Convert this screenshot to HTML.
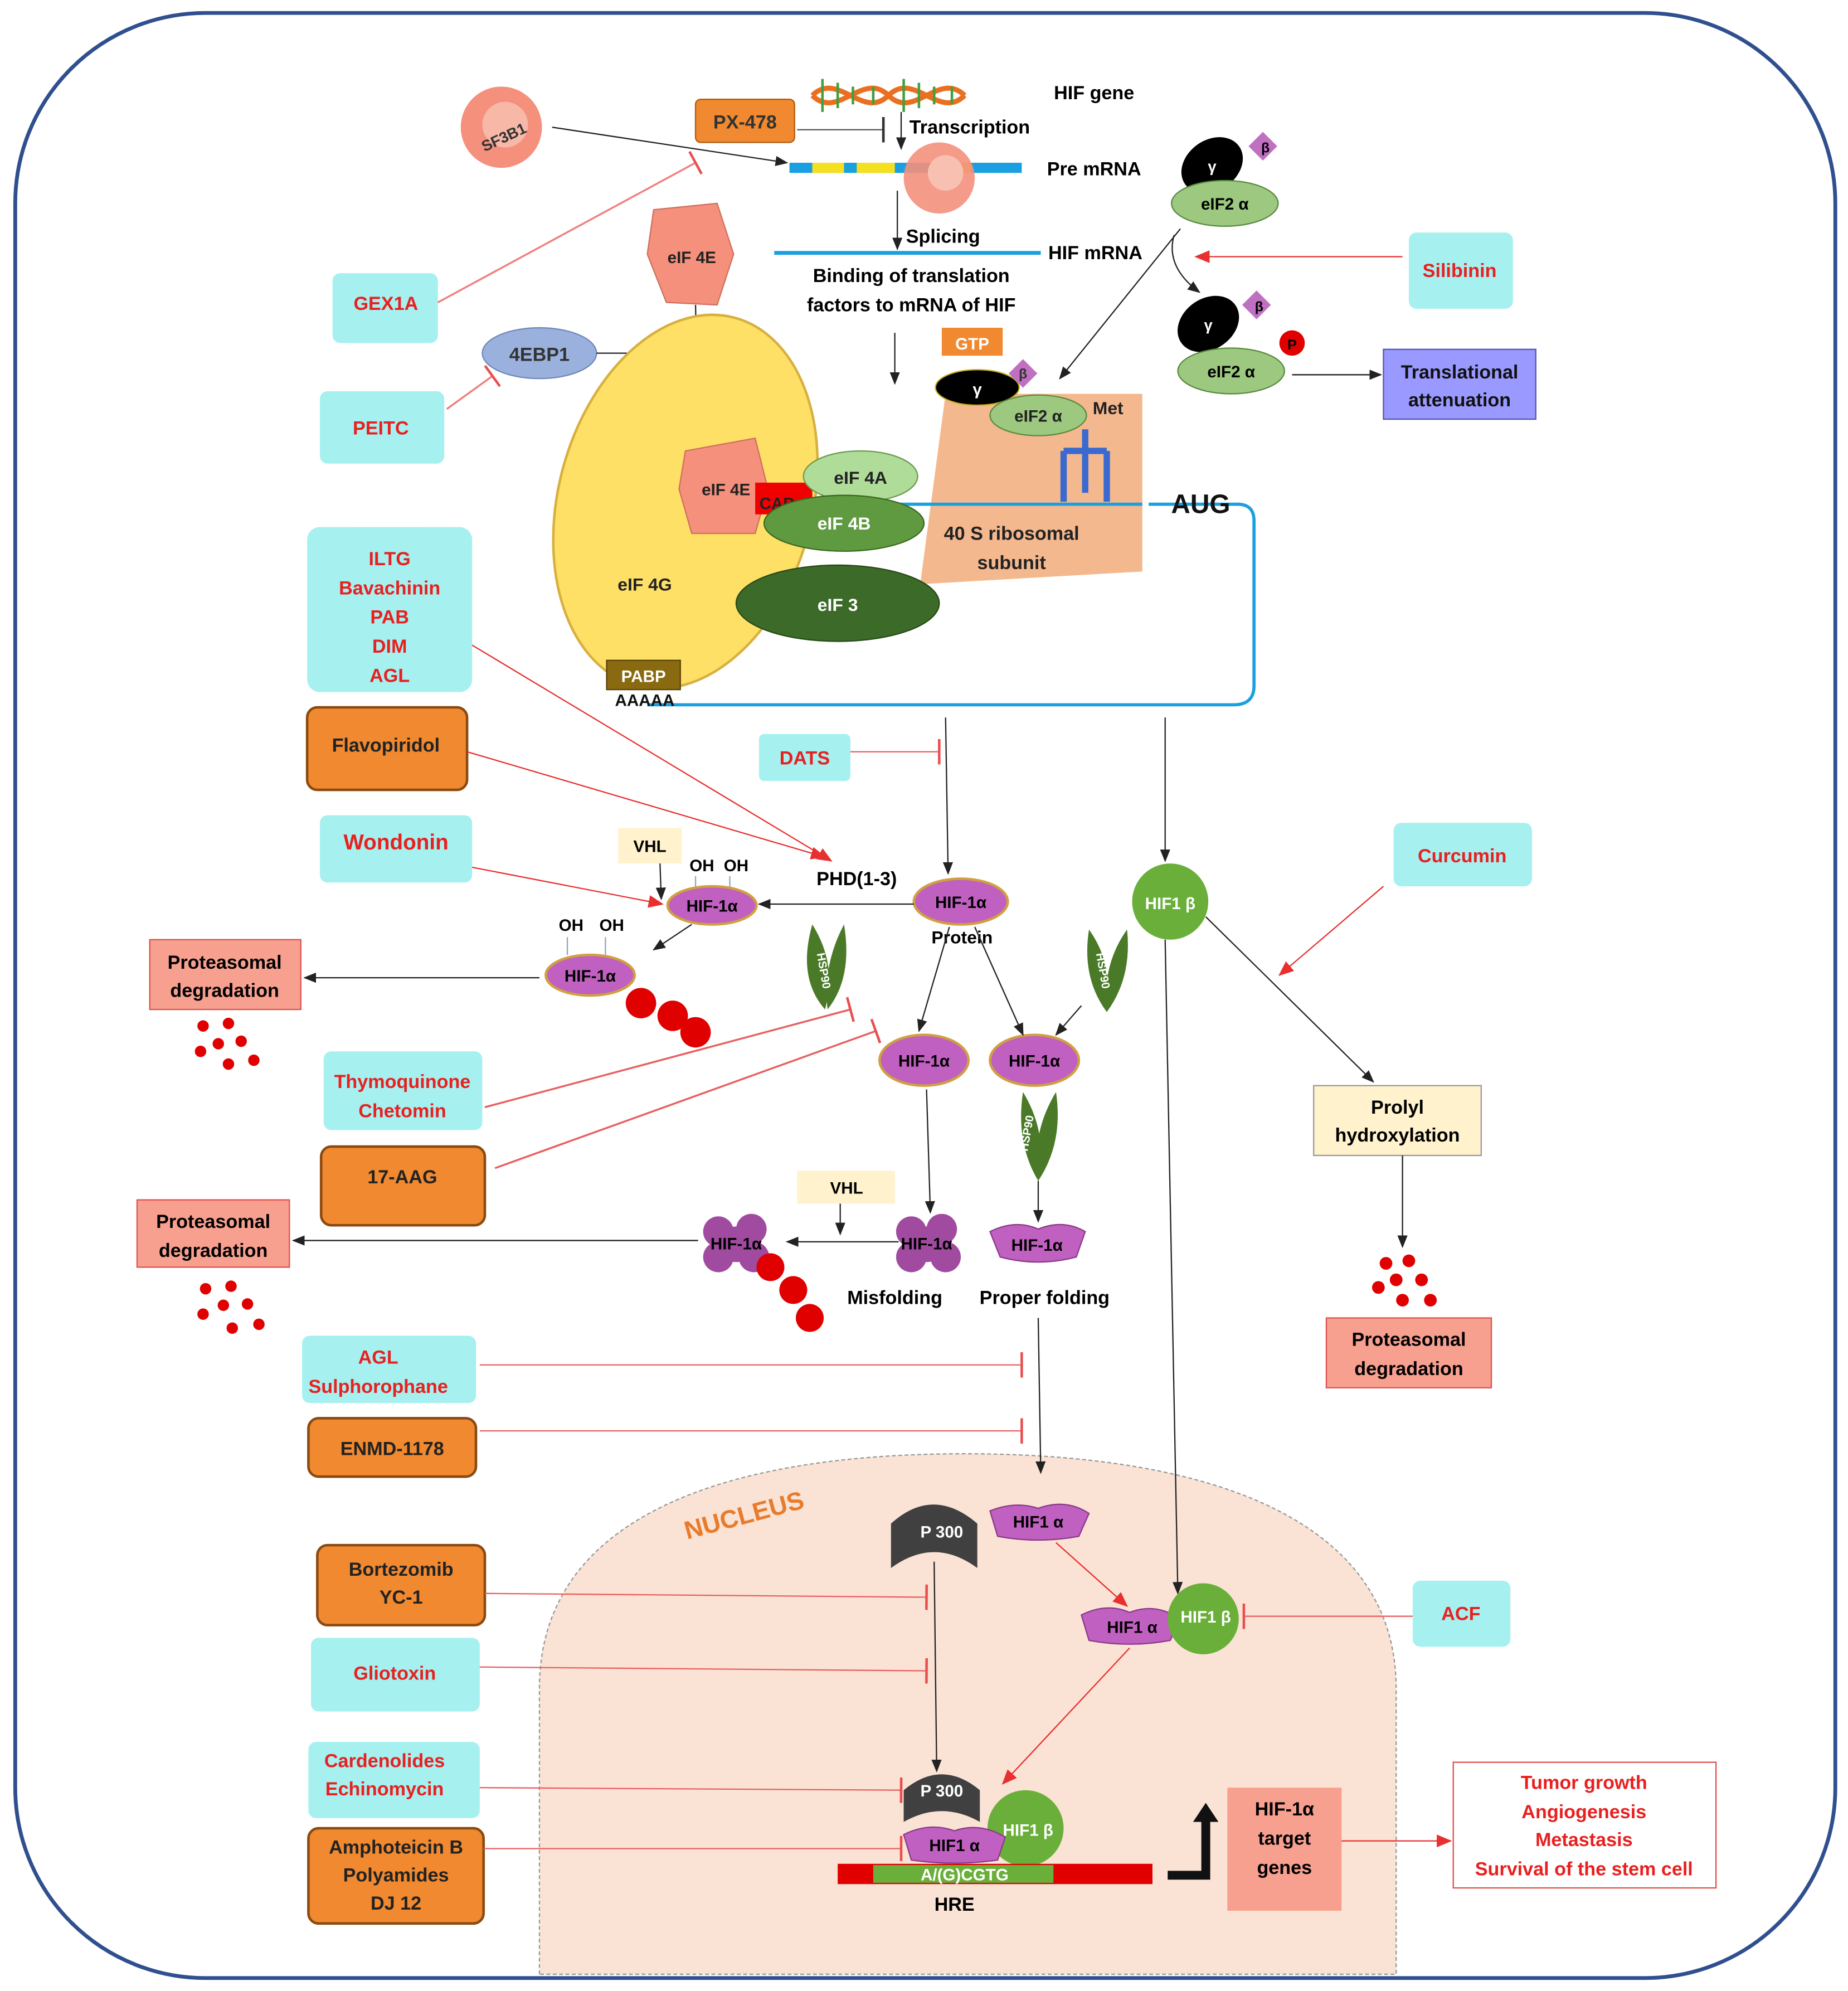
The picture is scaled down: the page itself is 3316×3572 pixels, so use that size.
<!DOCTYPE html>
<html><head><meta charset="utf-8"><style>html,body{margin:0;padding:0;background:#fff}svg{display:block}text{font-family:"Liberation Sans",sans-serif;font-weight:bold}</style></head><body>
<svg width="3316" height="3572" viewBox="0 0 1456 1568" xmlns="http://www.w3.org/2000/svg">
<defs>
<marker id="a" markerWidth="10" markerHeight="10" refX="9" refY="5" orient="auto" markerUnits="userSpaceOnUse"><path d="M0,1 L10,5 L0,9 z" fill="#222"/></marker>
<marker id="r" markerWidth="12" markerHeight="10" refX="11" refY="5" orient="auto" markerUnits="userSpaceOnUse"><path d="M0,0 L12,5 L0,10 z" fill="#e83030"/></marker>
<marker id="t" markerWidth="4" markerHeight="20" refX="2" refY="10" orient="auto" markerUnits="userSpaceOnUse"><rect x="1" y="0" width="2" height="20" fill="#e85050"/></marker>
<marker id="tk" markerWidth="4" markerHeight="20" refX="2" refY="10" orient="auto" markerUnits="userSpaceOnUse"><rect x="1" y="0" width="2" height="20" fill="#333"/></marker>
</defs>
<rect x="12" y="10" width="1434" height="1548" rx="150" fill="#fff" stroke="#2f4f8f" stroke-width="3"/>
<!-- nucleus -->
<path d="M425,1555 L425,1330 C425,1200 560,1145 760,1145 C960,1145 1100,1200 1100,1330 L1100,1555 Z" fill="#fae3d5" stroke="#999" stroke-dasharray="3,2"/>
<text x="588" y="1200" font-size="20" fill="#e87b2c" transform="rotate(-15 588 1200)" text-anchor="middle">NUCLEUS</text>

<g font-size="15" text-anchor="middle">
<!-- top -->
<circle cx="395" cy="100" r="32" fill="#f4907c"/><circle cx="398" cy="98" r="18" fill="#f8b8a8"/>
<text x="397" y="112" font-size="12" fill="#333" transform="rotate(-25 397 108)">SF3B1</text>
<rect x="548" y="78" width="78" height="34" rx="4" fill="#f0892f" stroke="#b05a10"/><text x="587" y="101" fill="#333">PX-478</text>
<path d="M640,75 C660,55 680,95 700,75 C720,55 740,95 760,75 M640,75 C660,95 680,55 700,75 C720,95 740,55 760,75" stroke="#e87020" stroke-width="4" fill="none"/>
<path d="M648,62 v26 M660,65 v20 M672,68 v14 M688,68 v14 M712,62 v26 M724,65 v20 M736,68 v14 M750,68 v14" stroke="#40a040" stroke-width="2"/>
<text x="862" y="78" text-anchor="middle">HIF gene</text>
<text x="764" y="105">Transcription</text>
<line x1="710" y1="88" x2="710" y2="117" stroke="#222" marker-end="url(#a)"/>
<line x1="628" y1="102" x2="696" y2="102" stroke="#555" marker-end="url(#tk)"/>
<rect x="622" y="128" width="183" height="8" fill="#1aa0e0"/><rect x="640" y="128" width="25" height="8" fill="#f5e020"/><rect x="675" y="128" width="30" height="8" fill="#f5e020"/><rect x="740" y="128" width="25" height="8" fill="#f5e020"/>
<text x="862" y="138">Pre mRNA</text>
<line x1="435" y1="100" x2="620" y2="128" stroke="#222" marker-end="url(#a)"/>
<circle cx="740" cy="140" r="28" fill="#f4907c" opacity="0.9"/><circle cx="745" cy="136" r="14" fill="#f8c0b0"/>
<line x1="707" y1="150" x2="707" y2="196" stroke="#222" marker-end="url(#a)"/>
<text x="743" y="191">Splicing</text>
<line x1="610" y1="199" x2="820" y2="199" stroke="#1aa0e0" stroke-width="3"/>
<text x="863" y="204">HIF mRNA</text>
<text x="718" y="222">Binding of translation</text><text x="718" y="245">factors to mRNA of HIF</text>
<line x1="705" y1="262" x2="705" y2="302" stroke="#222" marker-end="url(#a)"/>
<rect x="262" y="215" width="83" height="55" rx="6" fill="#a6f0f0"/><text x="304" y="244" fill="#e82020">GEX1A</text>
<line x1="345" y1="238" x2="548" y2="128" stroke="#f08080" stroke-width="1.5" marker-end="url(#t)"/>
<path d="M515,165 L565,160 L578,200 L565,240 L525,238 L510,200 Z" fill="#f4907c" stroke="#d07060"/><text x="545" y="207" font-size="13" fill="#222">eIF 4E</text>
<ellipse cx="425" cy="278" rx="45" ry="20" fill="#9ab0dd" stroke="#7088bb"/><text x="425" y="284" fill="#333">4EBP1</text>
<rect x="252" y="308" width="98" height="57" rx="6" fill="#a6f0f0"/><text x="300" y="342" fill="#e82020">PEITC</text>
<line x1="352" y1="322" x2="388" y2="296" stroke="#f08080" stroke-width="1.5" marker-end="url(#t)"/>
<line x1="470" y1="278" x2="540" y2="278" stroke="#222" marker-end="url(#a)"/>
<line x1="548" y1="240" x2="550" y2="345" stroke="#222" marker-end="url(#a)"/>
<!-- complex -->
<ellipse cx="540" cy="395" rx="100" ry="150" transform="rotate(15 540 395)" fill="#ffe066" stroke="#d8b040" stroke-width="2"/>
<path d="M540,355 L595,345 L605,385 L595,420 L545,420 L535,385 Z" fill="#f4907c" stroke="#d07060"/><text x="572" y="390" font-size="13" fill="#222">eIF 4E</text>
<rect x="595" y="380" width="45" height="25" fill="#f00000"/><text x="612" y="401" font-size="13" fill="#222">CAP</text>
<path d="M905,397 L975,397 Q988,397 988,410 L988,540 Q988,555 972,555 L510,555" stroke="#1aa0e0" stroke-width="2.5" fill="none"/>
<polygon points="745,310 900,310 900,450 725,460" fill="#f4b88e"/>
<line x1="640" y1="397" x2="900" y2="397" stroke="#1aa0e0" stroke-width="2.5"/>
<ellipse cx="678" cy="375" rx="45" ry="20" fill="#b0dc9a" stroke="#6a9a50"/><text x="678" y="381" font-size="14" fill="#222">eIF 4A</text>
<ellipse cx="665" cy="412" rx="63" ry="22" fill="#5f9a40" stroke="#3a6a20"/><text x="665" y="417" font-size="14" fill="#fff">eIF 4B</text>
<ellipse cx="660" cy="475" rx="80" ry="30" fill="#3c6a28" stroke="#284a18"/><text x="660" y="481" font-size="14" fill="#fff">eIF 3</text>
<text x="508" y="465" font-size="14" fill="#222">eIF 4G</text>
<rect x="478" y="520" width="58" height="23" fill="#8a6a10" stroke="#5a4008"/><text x="507" y="537" font-size="13" fill="#fff">PABP</text>
<text x="508" y="556" font-size="13" fill="#111">AAAAA</text>
<text x="797" y="425" font-size="15" fill="#222">40 S ribosomal</text><text x="797" y="448" font-size="15" fill="#222">subunit</text>
<path d="M855,338 v50 M838,355 h34 M838,355 v40 M872,355 v40" stroke="#3a6ad0" stroke-width="5" fill="none"/>
<text x="873" y="326" font-size="14" fill="#222">Met</text>
<rect x="742" y="258" width="48" height="22" fill="#f0892f"/><text x="766" y="275" font-size="13" fill="#fff">GTP</text>
<ellipse cx="770" cy="305" rx="33" ry="14" fill="#000" stroke="#c8b020"/><text x="770" y="311" font-size="13" fill="#fff">γ</text>
<rect x="798" y="286" width="16" height="16" transform="rotate(45 806 294)" fill="#c070c0"/><text x="806" y="298" font-size="11" fill="#333">β</text>
<ellipse cx="818" cy="327" rx="38" ry="16" fill="#9cc880" stroke="#5a8a40"/><text x="818" y="332" font-size="13" fill="#222">eIF2 α</text>
<text x="946" y="404" font-size="21" fill="#111">AUG</text>
<!-- top right -->
<ellipse cx="955" cy="130" rx="26" ry="20" transform="rotate(-35 955 130)" fill="#000"/><text x="955" y="135" font-size="12" fill="#fff">γ</text>
<rect x="987" y="107" width="16" height="16" transform="rotate(45 995 115)" fill="#c070c0"/><text x="997" y="120" font-size="11">β</text>
<ellipse cx="965" cy="160" rx="42" ry="18" fill="#9cc880" stroke="#5a8a40"/><text x="965" y="165" font-size="13">eIF2 α</text>
<line x1="930" y1="180" x2="835" y2="298" stroke="#222" marker-end="url(#a)"/>
<path d="M925,185 Q918,210 945,230" stroke="#222" fill="none" marker-end="url(#a)"/>
<rect x="1110" y="183" width="82" height="60" rx="6" fill="#a6f0f0"/><text x="1150" y="218" fill="#e82020">Silibinin</text>
<line x1="1105" y1="202" x2="942" y2="202" stroke="#e83030" marker-end="url(#r)"/>
<ellipse cx="952" cy="255" rx="26" ry="20" transform="rotate(-35 952 255)" fill="#000"/><text x="952" y="260" font-size="12" fill="#fff">γ</text>
<rect x="982" y="232" width="16" height="16" transform="rotate(45 990 240)" fill="#c070c0"/><text x="992" y="245" font-size="11">β</text>
<ellipse cx="970" cy="292" rx="42" ry="18" fill="#9cc880" stroke="#5a8a40"/><text x="970" y="297" font-size="13">eIF2 α</text>
<circle cx="1018" cy="270" r="10" fill="#e00000"/><text x="1018" y="275" font-size="11">P</text>
<line x1="1018" y1="295" x2="1088" y2="295" stroke="#222" marker-end="url(#a)"/>
<rect x="1090" y="275" width="120" height="55" fill="#9999ff" stroke="#5555aa"/><text x="1150" y="298" fill="#111">Translational</text><text x="1150" y="320" fill="#111">attenuation</text>
<!-- left column -->
<rect x="242" y="415" width="130" height="130" rx="10" fill="#a6f0f0"/>
<g fill="#e82020"><text x="307" y="445">ILTG</text><text x="307" y="468">Bavachinin</text><text x="307" y="491">PAB</text><text x="307" y="514">DIM</text><text x="307" y="537">AGL</text></g>
<rect x="242" y="557" width="126" height="65" rx="8" fill="#f0892f" stroke="#8a4a10" stroke-width="2"/><text x="304" y="592" fill="#222">Flavopiridol</text>
<line x1="372" y1="508" x2="655" y2="678" stroke="#e83030" marker-end="url(#r)"/>
<line x1="368" y1="592" x2="650" y2="675" stroke="#e83030" marker-end="url(#r)"/>
<rect x="598" y="578" width="72" height="37" rx="4" fill="#a6f0f0"/><text x="634" y="602" fill="#e82020">DATS</text>
<line x1="670" y1="592" x2="740" y2="592" stroke="#e86060" marker-end="url(#t)"/>
<line x1="745" y1="565" x2="747" y2="688" stroke="#222" marker-end="url(#a)"/>
<line x1="918" y1="565" x2="918" y2="678" stroke="#222" marker-end="url(#a)"/>
<rect x="252" y="642" width="120" height="53" rx="6" fill="#a6f0f0"/><text x="312" y="669" font-weight="normal" font-size="17" fill="#e82020">Wondonin</text>
<line x1="372" y1="683" x2="522" y2="712" stroke="#e83030" marker-end="url(#r)"/>
<rect x="487" y="652" width="50" height="28" fill="#fff2cc"/><text x="512" y="671" font-size="13">VHL</text>
<line x1="520" y1="680" x2="521" y2="708" stroke="#222" marker-end="url(#a)"/>
<text x="675" y="697">PHD(1-3)</text>
<text x="553" y="686" font-size="13" font-weight="normal">OH</text><text x="580" y="686" font-size="13" font-weight="normal">OH</text>
<line x1="548" y1="690" x2="548" y2="700" stroke="#8ab"/><line x1="575" y1="690" x2="575" y2="700" stroke="#8ab"/>
<ellipse cx="561" cy="713" rx="35" ry="15" fill="#c060c0" stroke="#d0a040" stroke-width="2"/><text x="561" y="718" font-size="13">HIF-1α</text>
<ellipse cx="757" cy="710" rx="37" ry="18" fill="#c060c0" stroke="#d0a040" stroke-width="2"/><text x="757" y="715" font-size="13">HIF-1α</text>
<text x="758" y="743" font-size="14">Protein</text>
<line x1="720" y1="712" x2="598" y2="712" stroke="#222" marker-end="url(#a)"/>
<line x1="545" y1="728" x2="515" y2="748" stroke="#222" marker-end="url(#a)"/>
<text x="450" y="733" font-size="13" font-weight="normal">OH</text><text x="482" y="733" font-size="13" font-weight="normal">OH</text>
<line x1="447" y1="738" x2="447" y2="752" stroke="#8ab"/><line x1="477" y1="738" x2="477" y2="752" stroke="#8ab"/>
<ellipse cx="465" cy="768" rx="35" ry="16" fill="#c060c0" stroke="#d0a040" stroke-width="2"/><text x="465" y="773" font-size="13">HIF-1α</text>
<g fill="#e00000"><circle cx="505" cy="790" r="12"/><circle cx="530" cy="800" r="12"/><circle cx="548" cy="813" r="12"/></g>
<rect x="118" y="740" width="119" height="55" fill="#f8a090" stroke="#e05050"/><text x="177" y="763">Proteasomal</text><text x="177" y="785">degradation</text>
<line x1="425" y1="770" x2="240" y2="770" stroke="#222" marker-end="url(#a)"/>
<g fill="#e00000"><circle cx="160" cy="808" r="4.5"/><circle cx="180" cy="806" r="4.5"/><circle cx="172" cy="822" r="4.5"/><circle cx="190" cy="820" r="4.5"/><circle cx="158" cy="828" r="4.5"/><circle cx="180" cy="838" r="4.5"/><circle cx="200" cy="835" r="4.5"/></g>
<!-- HSP90 -->
<g fill="#4a7a28"><path d="M640,728 Q628,770 650,795 Q660,760 640,728 Z"/><path d="M665,728 Q672,770 652,795 Q648,760 665,728 Z"/>
<path d="M858,732 Q852,770 872,797 Q878,760 858,732 Z"/><path d="M888,732 Q892,770 872,797 Q868,760 888,732 Z"/>
<path d="M806,860 Q800,900 818,930 Q826,893 806,860 Z"/><path d="M832,860 Q838,900 818,930 Q812,893 832,860 Z"/></g>
<g font-size="9" fill="#fff"><text x="646" y="765" transform="rotate(80 646 765)">HSP90</text><text x="866" y="765" transform="rotate(80 866 765)">HSP90</text><text x="812" y="893" transform="rotate(-80 812 893)">HSP90</text></g>
<ellipse cx="728" cy="835" rx="35" ry="20" fill="#c060c0" stroke="#d0a040" stroke-width="2"/><text x="728" y="840" font-size="13">HIF-1α</text>
<ellipse cx="815" cy="835" rx="35" ry="20" fill="#c060c0" stroke="#d0a040" stroke-width="2"/><text x="815" y="840" font-size="13">HIF-1α</text>
<line x1="748" y1="730" x2="724" y2="812" stroke="#222" marker-end="url(#a)"/>
<line x1="768" y1="730" x2="806" y2="815" stroke="#222" marker-end="url(#a)"/>
<line x1="852" y1="792" x2="832" y2="815" stroke="#222" marker-end="url(#a)"/>
<rect x="255" y="828" width="125" height="62" rx="6" fill="#a6f0f0"/><text x="317" y="857" fill="#e82020">Thymoquinone</text><text x="317" y="880" fill="#e82020">Chetomin</text>
<rect x="253" y="903" width="129" height="62" rx="8" fill="#f0892f" stroke="#8a4a10" stroke-width="2"/><text x="317" y="932" fill="#222">17-AAG</text>
<line x1="382" y1="872" x2="670" y2="795" stroke="#e86060" stroke-width="1.5" marker-end="url(#t)"/>
<line x1="390" y1="920" x2="690" y2="812" stroke="#e86060" stroke-width="1.5" marker-end="url(#t)"/>
<line x1="730" y1="858" x2="733" y2="955" stroke="#222" marker-end="url(#a)"/>
<g fill="#a04aa0"><circle cx="718" cy="970" r="12"/><circle cx="742" cy="968" r="12"/><circle cx="718" cy="990" r="12"/><circle cx="745" cy="990" r="12"/><circle cx="730" cy="980" r="14"/></g><text x="730" y="984" font-size="13">HIF-1α</text>
<rect x="628" y="922" width="77" height="26" fill="#fff2cc"/><text x="667" y="940" font-size="13">VHL</text>
<line x1="662" y1="948" x2="662" y2="972" stroke="#222" marker-end="url(#a)"/>
<line x1="708" y1="978" x2="620" y2="978" stroke="#222" marker-end="url(#a)"/>
<g fill="#a04aa0"><circle cx="566" cy="970" r="12"/><circle cx="592" cy="968" r="12"/><circle cx="566" cy="990" r="12"/><circle cx="594" cy="990" r="12"/><circle cx="580" cy="980" r="14"/></g><text x="580" y="984" font-size="13">HIF-1α</text>
<g fill="#e00000"><circle cx="607" cy="998" r="11"/><circle cx="625" cy="1016" r="11"/><circle cx="638" cy="1038" r="11"/></g>
<rect x="108" y="945" width="120" height="53" fill="#f8a090" stroke="#e05050"/><text x="168" y="967">Proteasomal</text><text x="168" y="990">degradation</text>
<line x1="550" y1="977" x2="231" y2="977" stroke="#222" marker-end="url(#a)"/>
<g fill="#e00000"><circle cx="162" cy="1015" r="4.5"/><circle cx="182" cy="1013" r="4.5"/><circle cx="176" cy="1028" r="4.5"/><circle cx="195" cy="1027" r="4.5"/><circle cx="160" cy="1035" r="4.5"/><circle cx="183" cy="1046" r="4.5"/><circle cx="204" cy="1043" r="4.5"/></g>
<text x="705" y="1027">Misfolding</text><text x="823" y="1027">Proper folding</text>
<path d="M780,970 Q800,960 818,968 Q838,960 855,970 L848,990 Q818,998 788,990 Z" fill="#c060c0" stroke="#8a3a8a"/><text x="817" y="985" font-size="13">HIF-1α</text>
<line x1="818" y1="930" x2="818" y2="962" stroke="#222" marker-end="url(#a)"/>
<!-- right column -->
<circle cx="922" cy="710" r="30" fill="#6aaf3a"/><text x="922" y="716" font-size="13" fill="#fff">HIF1 β</text>
<rect x="1098" y="648" width="109" height="50" rx="6" fill="#a6f0f0"/><text x="1152" y="679" fill="#e82020">Curcumin</text>
<line x1="1090" y1="698" x2="1008" y2="768" stroke="#e83030" marker-end="url(#r)"/>
<line x1="950" y1="722" x2="1082" y2="852" stroke="#222" marker-end="url(#a)"/>
<rect x="1035" y="855" width="132" height="55" fill="#fff2cc" stroke="#999"/><text x="1101" y="877">Prolyl</text><text x="1101" y="899">hydroxylation</text>
<line x1="1105" y1="910" x2="1105" y2="982" stroke="#222" marker-end="url(#a)"/>
<g fill="#e00000"><circle cx="1092" cy="995" r="5"/><circle cx="1110" cy="993" r="5"/><circle cx="1100" cy="1008" r="5"/><circle cx="1120" cy="1008" r="5"/><circle cx="1086" cy="1014" r="5"/><circle cx="1105" cy="1024" r="5"/><circle cx="1127" cy="1024" r="5"/></g>
<rect x="1045" y="1038" width="130" height="55" fill="#f8a090" stroke="#e05050"/><text x="1110" y="1060">Proteasomal</text><text x="1110" y="1083">degradation</text>
<line x1="918" y1="740" x2="928" y2="1255" stroke="#222" marker-end="url(#a)"/>
<rect x="238" y="1052" width="137" height="53" rx="6" fill="#a6f0f0"/><text x="298" y="1074" fill="#e82020">AGL</text><text x="298" y="1097" fill="#e82020">Sulphorophane</text>
<rect x="243" y="1117" width="132" height="46" rx="8" fill="#f0892f" stroke="#8a4a10" stroke-width="2"/><text x="309" y="1146" fill="#222">ENMD-1178</text>
<line x1="378" y1="1075" x2="805" y2="1075" stroke="#e86060" marker-end="url(#t)"/>
<line x1="378" y1="1127" x2="805" y2="1127" stroke="#e86060" marker-end="url(#t)"/>
<line x1="818" y1="1038" x2="820" y2="1160" stroke="#222" marker-end="url(#a)"/>
<!-- nucleus contents -->
<path d="M702,1235 L702,1200 Q735,1170 770,1200 L770,1235 Q736,1210 702,1235 Z" fill="#404040"/><text x="742" y="1211" font-size="13" fill="#fff">P 300</text>
<path d="M780,1190 Q800,1182 818,1188 Q840,1180 858,1192 L850,1210 Q818,1216 786,1210 Z" fill="#c060c0" stroke="#8a3a8a"/><text x="818" y="1203" font-size="13">HIF1 α</text>
<line x1="832" y1="1215" x2="888" y2="1265" stroke="#e83030" marker-end="url(#r)"/>
<path d="M852,1272 Q872,1262 890,1270 Q910,1262 930,1275 L922,1292 Q890,1298 858,1292 Z" fill="#c060c0" stroke="#8a3a8a"/><text x="892" y="1286" font-size="13">HIF1 α</text>
<circle cx="948" cy="1275" r="28" fill="#6aaf3a"/><text x="950" y="1278" font-size="13" fill="#fff">HIF1 β</text>
<rect x="1113" y="1245" width="77" height="52" rx="6" fill="#a6f0f0"/><text x="1151" y="1276" fill="#e82020">ACF</text>
<line x1="1113" y1="1273" x2="980" y2="1273" stroke="#e86060" marker-end="url(#t)"/>
<rect x="250" y="1217" width="132" height="63" rx="8" fill="#f0892f" stroke="#8a4a10" stroke-width="2"/><text x="316" y="1241" fill="#222">Bortezomib</text><text x="316" y="1263" fill="#222">YC-1</text>
<rect x="245" y="1290" width="133" height="58" rx="6" fill="#a6f0f0"/><text x="311" y="1323" fill="#e82020">Gliotoxin</text>
<line x1="382" y1="1255" x2="730" y2="1258" stroke="#e86060" marker-end="url(#t)"/>
<line x1="378" y1="1313" x2="730" y2="1316" stroke="#e86060" marker-end="url(#t)"/>
<line x1="736" y1="1230" x2="738" y2="1395" stroke="#222" marker-end="url(#a)"/>
<rect x="243" y="1372" width="135" height="60" rx="6" fill="#a6f0f0"/><text x="303" y="1392" fill="#e82020">Cardenolides</text><text x="303" y="1414" fill="#e82020">Echinomycin</text>
<rect x="243" y="1440" width="138" height="75" rx="8" fill="#f0892f" stroke="#8a4a10" stroke-width="2"/><text x="312" y="1460" fill="#222">Amphoteicin B</text><text x="312" y="1482" fill="#222">Polyamides</text><text x="312" y="1504" fill="#222">DJ 12</text>
<line x1="378" y1="1408" x2="710" y2="1410" stroke="#e86060" marker-end="url(#t)"/>
<line x1="381" y1="1456" x2="710" y2="1456" stroke="#e86060" marker-end="url(#t)"/>
<line x1="890" y1="1298" x2="790" y2="1405" stroke="#e83030" marker-end="url(#r)"/>
<path d="M712,1435 L712,1410 Q742,1385 772,1410 L772,1435 Q742,1418 712,1435 Z" fill="#404040"/><text x="742" y="1415" font-size="13" fill="#fff">P 300</text>
<circle cx="808" cy="1440" r="30" fill="#6aaf3a"/><text x="810" y="1446" font-size="13" fill="#fff">HIF1 β</text>
<path d="M712,1445 Q732,1435 752,1442 Q772,1435 792,1447 L786,1465 Q752,1470 718,1465 Z" fill="#c060c0" stroke="#8a3a8a"/><text x="752" y="1458" font-size="13">HIF1 α</text>
<rect x="660" y="1468" width="248" height="16" fill="#e00000"/><rect x="688" y="1469" width="142" height="14" fill="#6aaf3a"/><text x="760" y="1481" font-size="13" fill="#fff">A/(G)CGTG</text>
<text x="752" y="1505">HRE</text>
<path d="M920,1477 L950,1477 L950,1432" stroke="#111" stroke-width="7" fill="none"/><path d="M940,1435 L950,1420 L960,1435 Z" fill="#111"/>
<rect x="967" y="1408" width="90" height="97" fill="#f8a090"/><text x="1012" y="1430">HIF-1α</text><text x="1012" y="1453">target</text><text x="1012" y="1476">genes</text>
<line x1="1057" y1="1450" x2="1143" y2="1450" stroke="#e83030" marker-end="url(#r)"/>
<rect x="1145" y="1388" width="207" height="99" fill="#fff" stroke="#e05050"/>
<g fill="#e82020"><text x="1248" y="1409">Tumor growth</text><text x="1248" y="1432">Angiogenesis</text><text x="1248" y="1454">Metastasis</text><text x="1248" y="1477">Survival of the stem cell</text></g>
</g>
</svg>
</body></html>
